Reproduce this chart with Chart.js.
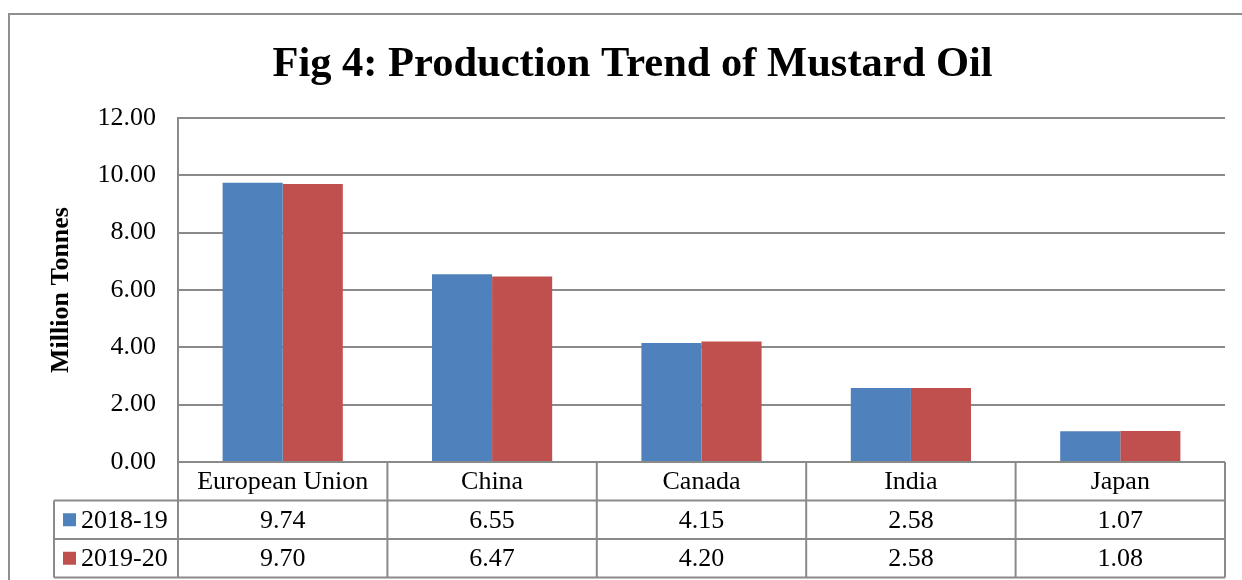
<!DOCTYPE html>
<html>
<head>
<meta charset="utf-8">
<script src="https://cdn.jsdelivr.net/npm/chart.js@4/dist/chart.umd.min.js"></script>
<style>
  html, body { margin: 0; padding: 0; background: #fff; }
  #wrap { width: 1242px; height: 580px; }
</style>
</head>
<body>
<div id="wrap"><canvas id="chart" width="1242" height="580"></canvas></div>
<script>
const categories = ["European Union", "China", "Canada", "India", "Japan"];
const seriesNames = ["2018-19", "2019-20"];
const values2018 = [9.74, 6.55, 4.15, 2.58, 1.07];
const values2019 = [9.70, 6.47, 4.20, 2.58, 1.08];
const colors = ["#4F81BD", "#C0504D"];

const serif = "'Liberation Serif', 'Times New Roman', serif";
const lineColor = "#8a8a8a";

// draws the outer frame and the data table under the plot
const tablePlugin = {
  id: "dataTable",
  beforeDraw(chart) {
    const ctx = chart.ctx;
    ctx.save();
    ctx.fillStyle = "#fff";
    ctx.fillRect(0, 0, chart.width, chart.height);
    ctx.strokeStyle = "#8f8f8f";
    ctx.lineWidth = 2;
    ctx.beginPath();
    ctx.moveTo(9, chart.height);
    ctx.lineTo(9, 14);
    ctx.lineTo(chart.width, 14);
    ctx.stroke();
    ctx.restore();
  },
  afterDraw(chart) {
    const ctx = chart.ctx;
    const x = chart.scales.x;
    const area = chart.chartArea;
    const rowH = 38.5;
    const top = area.bottom;
    const rows = [top + rowH, top + rowH * 2, top + rowH * 3];
    const tableLeft = 54;
    const step = (area.right - area.left) / categories.length;

    ctx.save();
    ctx.strokeStyle = lineColor;
    ctx.lineWidth = 2;
    ctx.beginPath();
    // vertical lines between columns
    for (let i = 0; i <= categories.length; i++) {
      const vx = area.left + step * i;
      ctx.moveTo(vx, top);
      ctx.lineTo(vx, rows[2]);
    }
    ctx.moveTo(tableLeft, rows[0]);
    ctx.lineTo(tableLeft, rows[2]);
    rows.forEach((ry) => {
      ctx.moveTo(tableLeft, ry);
      ctx.lineTo(area.right, ry);
    });
    ctx.stroke();

    const data = [values2018, values2019];
    ctx.font = "26px " + serif;
    ctx.fillStyle = "#000";
    ctx.textBaseline = "middle";
    data.forEach((vals, r) => {
      const cy = rows[r] + rowH / 2;
      ctx.fillStyle = colors[r];
      ctx.fillRect(63, cy - 6.5, 13, 13);
      ctx.fillStyle = "#000";
      ctx.textAlign = "left";
      ctx.fillText(seriesNames[r], 81, cy + 1);
      ctx.textAlign = "center";
      vals.forEach((v, i) => {
        ctx.fillText(v.toFixed(2), x.getPixelForValue(i), cy + 1);
      });
    });
    ctx.restore();
  },
};

new Chart(document.getElementById("chart"), {
  type: "bar",
  data: {
    labels: categories,
    datasets: [
      { label: seriesNames[0], data: values2018, backgroundColor: colors[0] },
      { label: seriesNames[1], data: values2019, backgroundColor: colors[1] },
    ],
  },
  options: {
    responsive: false,
    animation: false,
    layout: { padding: { top: 26, right: 17, bottom: 3, left: 40 } },
    datasets: {
      bar: { categoryPercentage: 0.574, barPercentage: 1 },
    },
    plugins: {
      legend: { display: false },
      tooltip: { enabled: false },
      title: {
        display: true,
        text: "Fig 4: Production Trend of Mustard Oil",
        color: "#000",
        font: { family: serif, size: 42.5, weight: "bold" },
        padding: { top: 14, bottom: 27 },
      },
    },
    scales: {
      x: {
        afterFit: (scale) => { scale.height = 115; },
        grid: { display: false, drawTicks: false },
        border: { display: false },
        ticks: {
          color: "#000",
          padding: 5,
          font: { family: serif, size: 26 },
        },
      },
      y: {
        min: 0,
        max: 12,
        afterFit: (scale) => { scale.width = 138; },
        ticks: {
          stepSize: 2,
          color: "#000",
          padding: 22,
          font: { family: serif, size: 26 },
          callback: (v) => v.toFixed(2),
        },
        grid: { color: lineColor, lineWidth: 2, drawTicks: false },
        border: { color: lineColor, width: 2 },
        title: {
          display: true,
          text: "Million Tonnes",
          color: "#000",
          font: { family: serif, size: 26, weight: "bold" },
          padding: { top: 6, bottom: 0 },
        },
      },
    },
  },
  plugins: [tablePlugin],
});
</script>
</body>
</html>
